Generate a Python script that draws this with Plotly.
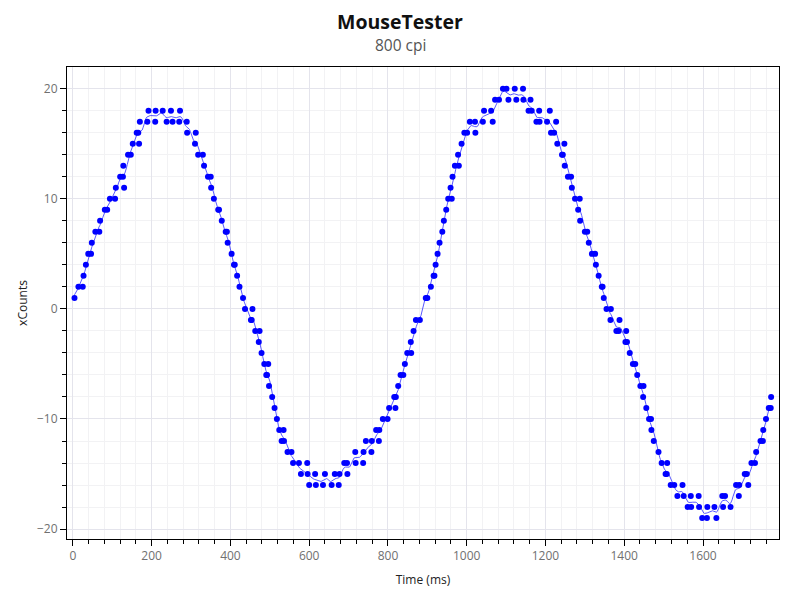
import numpy as np
import plotly.graph_objects as go

# Time stamps (ms) and xCounts
time_ms = [
    4, 14, 25, 27, 33, 39, 46, 48, 57, 67, 69, 81, 87, 94, 107, 109, 120, 127, 128, 130,
    140, 147, 152, 162, 166, 168, 170, 189, 192, 209, 210, 228, 238, 249, 253, 270, 272, 289, 290,
    310, 312, 318, 330, 333, 343, 350, 351, 358, 369, 371, 378, 388, 391, 393, 403, 409, 411,
    417, 423, 432, 437, 452, 454, 456, 463, 472, 474, 479, 486, 491, 493, 496, 498, 506, 512,
    518, 524, 530, 535, 536, 545, 555, 559, 574, 579, 595, 596, 600, 615, 617, 635, 640,
    657, 665, 675, 677, 689, 696, 697, 717, 718, 737, 738, 744, 758, 759, 770, 777, 778, 787,
    799, 803, 816, 819, 820, 826, 832, 839,
    843, 849, 858, 859, 865, 871, 881, 896, 900, 909, 916, 918, 921, 926, 931, 938, 942, 948,
    953, 959, 962, 964, 970, 978, 980, 987, 994, 1001, 1008, 1021, 1022, 1041, 1044, 1062,
    1066, 1072, 1082,
    1092, 1101, 1106, 1122, 1126, 1143, 1144, 1157, 1162, 1165, 1177, 1184, 1185, 1204, 1211,
    1214, 1222, 1227, 1230, 1242, 1244, 1248, 1249, 1257, 1265, 1267, 1275, 1283, 1287, 1288,
    1300, 1306, 1310, 1318, 1326, 1328, 1335, 1343, 1345, 1348, 1355, 1365, 1366, 1380, 1386,
    1388, 1403, 1405, 1407, 1414, 1422, 1428,
    1433, 1441, 1448, 1449, 1456, 1463, 1468, 1469, 1475, 1487, 1495, 1505, 1508, 1509, 1518,
    1527, 1535, 1548, 1551, 1561, 1569, 1570, 1589, 1590, 1598, 1610, 1611, 1629, 1634, 1649,
    1651, 1656, 1670, 1684, 1691, 1692, 1706, 1711, 1715, 1723, 1732, 1735, 1746, 1752, 1753,
    1760, 1767, 1772, 1773,
]
x_counts = [
    1, 2, 2, 3, 4, 5, 5, 6, 7, 7, 8, 9, 9, 10, 10, 11, 12, 12, 13, 11,
    14, 14, 15, 16, 16, 15, 17, 17, 18, 17, 18, 18, 17, 18, 17, 17, 18, 17, 16,
    15, 16, 14, 14, 13, 12, 12, 11, 10, 9, 9, 8, 7, 7, 6, 5, 4, 4,
    3, 2, 1, 0, -1, -1, 0, -2, -3, -2, -4, -5, -6, -6, -5, -7, -8, -9,
    -10, -11, -12, -11, -12, -13, -13, -14, -14, -15, -14, -15, -16, -15, -16, -16, -15,
    -16, -15, -16, -15, -14, -14, -15, -13, -14, -14, -13, -12, -13, -12, -11, -12, -11, -10,
    -10, -9, -8, -9, -8, -7, -6, -6,
    -5, -4, -3, -4, -2, -1, -1, 1, 1, 2, 3, 3, 4, 5, 6, 7, 8, 9,
    10, 11, 10, 12, 13, 14, 13, 15, 16, 16, 17, 17, 16, 17, 18, 18,
    17, 19, 19,
    20, 20, 19, 20, 19, 20, 19, 18, 19, 18, 17, 18, 17, 17, 18,
    16, 16, 17, 15, 14, 14, 15, 13, 12, 12, 11, 10, 9, 10, 8,
    7, 7, 6, 5, 5, 4, 3, 2, 2, 1, 0, -1, 0, -2, -2,
    -1, -3, -2, -3, -4, -5, -5,
    -6, -7, -8, -7, -9, -10, -10, -11, -12, -13, -14, -15, -15, -14, -16,
    -16, -17, -16, -17, -18, -17, -18, -17, -18, -19, -19, -18, -18, -19, -17,
    -18, -17, -18, -16, -17, -16, -15, -15, -16, -14, -14, -13, -12, -12, -11,
    -10, -9, -9, -8,
]

title_text = "MouseTester"
subtitle_text = "800 cpi"
x_title = "Time (ms)"
y_title = "xCounts"

t = np.array(time_ms, dtype=float)
v = np.array(x_counts, dtype=float)

# smoothed trend line (Gaussian kernel average of the samples)
grid_t = np.arange(t.min(), t.max() + 0.5, 2.0)
sigma = 7.0
w = np.exp(-0.5 * ((grid_t[:, None] - t[None, :]) / sigma) ** 2)
smooth = (w * v[None, :]).sum(axis=1) / w.sum(axis=1)

fig = go.Figure()
fig.add_trace(go.Scatter(
    x=grid_t, y=smooth, mode="lines",
    line=dict(color="rgba(60,60,255,0.85)", width=1),
    hoverinfo="skip", showlegend=False,
))
fig.add_trace(go.Scatter(
    x=time_ms, y=x_counts, mode="markers",
    marker=dict(color="#0000ff", size=6, line=dict(width=0)),
    showlegend=False,
))

font_family = "Open Sans, Noto Sans, DejaVu Sans, sans-serif"
axis_common = dict(
    showline=True, linecolor="black", linewidth=1, mirror=True,
    ticks="outside", ticklen=6, tickcolor="black", tickwidth=1,
    showgrid=True, gridcolor="#e4e4ec", gridwidth=1,
    zeroline=False, automargin=False,
    tickfont=dict(family=font_family, size=12, color="#707070"),
    title_font=dict(family=font_family, size=12, color="#222222"),
)

fig.update_xaxes(
    range=[-15, 1793], dtick=200, tick0=0,
    minor=dict(dtick=40, tick0=0, ticklen=4, tickcolor="black", ticks="outside",
               showgrid=True, gridcolor="#f2f2f4"),
    title_text=x_title, title_standoff=12,
    **axis_common,
)
fig.update_yaxes(
    range=[-20.9, 21.97], dtick=10, tick0=0,
    minor=dict(dtick=2, tick0=0, ticklen=4, tickcolor="black", ticks="outside",
               showgrid=True, gridcolor="#f2f2f4"),
    title_text=y_title, title_standoff=6,
    **axis_common,
)

# the page body has an 8px margin, so the figure is drawn at (8, 8)
page_offset = 8
fig_w, fig_h = 800 - 2 * page_offset, 600 - 2 * page_offset
plot_left, plot_top, plot_w, plot_h = 67, 67, 712, 472
m_l = plot_left - page_offset
m_t = plot_top - page_offset
m_r = fig_w - m_l - plot_w
m_b = fig_h - m_t - plot_h

title_x = (400 - plot_left) / plot_w  # centred on the page
fig.add_annotation(
    text=f"<b>{title_text}</b>", xref="paper", yref="paper",
    x=title_x, y=1 + (plot_top - 22) / plot_h, xanchor="center", yanchor="middle",
    showarrow=False, font=dict(family=font_family, size=19.5, color="#111111"),
)
fig.add_annotation(
    text=subtitle_text, xref="paper", yref="paper",
    x=title_x, y=1 + (plot_top - 45) / plot_h, xanchor="center", yanchor="middle",
    showarrow=False, font=dict(family=font_family, size=15.5, color="#555555"),
)

fig.update_layout(
    width=fig_w, height=fig_h,
    margin=dict(l=m_l, r=m_r, t=m_t, b=m_b),
    paper_bgcolor="white", plot_bgcolor="white",
    font=dict(family=font_family),
)

fig.write_html("out.html")
